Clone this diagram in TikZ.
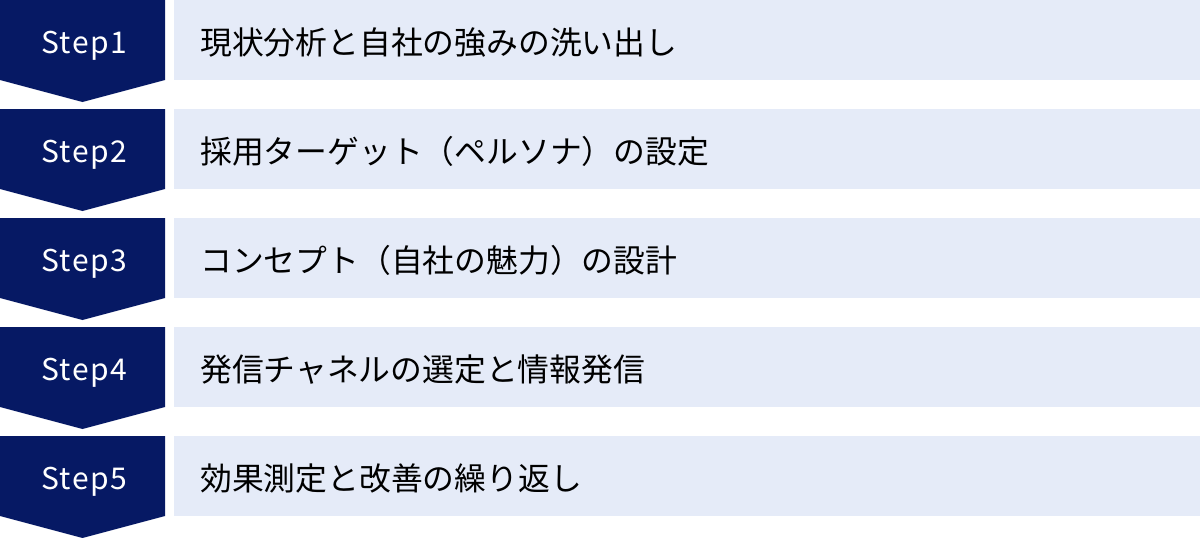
\documentclass[tikz,border=0pt]{standalone}
\usepackage{fontspec}
\setmainfont{Noto Sans CJK JP}
\newfontfamily\jpfont{Noto Sans CJK JP}
\newfontfamily\stepfont[LetterSpace=5]{Noto Sans CJK JP}
\definecolor{navy}{HTML}{061964}
\definecolor{lightbg}{HTML}{E5EBF8}
\tikzset{
  stepshape/.style={fill=navy, draw=none},
  bandshape/.style={fill=lightbg, draw=none},
  steplabel/.style={text=white, font=\stepfont\fontsize{30}{30}\selectfont, inner sep=0pt, anchor=base},
  bandlabel/.style={text=black, font=\jpfont\fontsize{31.8}{31.8}\selectfont, inner sep=0pt, anchor=base west},
}
\begin{document}
\begin{tikzpicture}[x=1pt,y=-1pt]
\useasboundingbox (0,0) rectangle (1200,538);
\foreach \i/\txt in {1/現状分析と自社の強みの洗い出し,2/採用ターゲット（ペルソナ）の設定,3/コンセプト（自社の魅力）の設計,4/発信チャネルの選定と情報発信,5/効果測定と改善の繰り返し}{
  \pgfmathsetmacro{\t}{(\i-1)*109}
  \fill[stepshape] (0,\t) -- (165,\t) -- (165,\t+80) -- (82.5,\t+102) -- (0,\t+80) -- cycle;
  \fill[bandshape] (174,\t) rectangle (1200,\t+80);
  \node[steplabel] (s\i) at (84,\t+53) {Step\i};
  \node[bandlabel] (b\i) at (200,\t+54) {\txt};
}
\end{tikzpicture}
\end{document}
